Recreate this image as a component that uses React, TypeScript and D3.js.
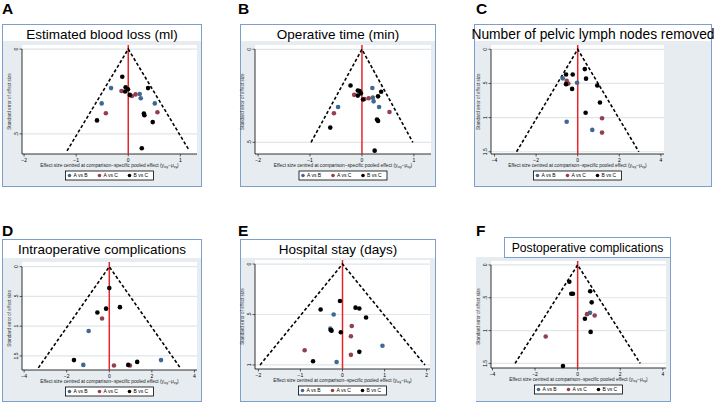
import React from 'react';
import * as d3 from 'd3';

// [centred effect size, standard error]
type Pt = [number, number];

const seriesNames = ['A vs B', 'A vs C', 'B vs C'];
const seriesColors = ['#3f6892', '#92404e', '#000000'];

// A - Estimated blood loss
const bloodAB: Pt[] = [[-0.33, 0.23], [-0.51, 0.32], [0.22, 0.265], [0.24, 0.29], [0.51, 0.32]];
const bloodAC: Pt[] = [[-0.13, 0.247], [0.14, 0.267], [0.07, 0.276], [-0.43, 0.378], [0.56, 0.372]];
const bloodBC: Pt[] = [[-0.115, 0.163], [-0.05, 0.225], [-0.005, 0.237], [-0.06, 0.25], [0.03, 0.27], [0.38, 0.23],
  [0.30, 0.38], [0.31, 0.39], [-0.60, 0.42], [0.47, 0.43], [0.26, 0.584]];

// B - Operative time
const opAB: Pt[] = [[0.2, 0.208], [0.21, 0.26], [0.225, 0.28], [0.33, 0.31], [-0.46, 0.31]];
const opAC: Pt[] = [[-0.15, 0.245], [0.05, 0.267], [0.13, 0.263], [-0.54, 0.344], [0.53, 0.337]];
const opBC: Pt[] = [[-0.22, 0.195], [-0.08, 0.222], [-0.045, 0.224], [-0.02, 0.237], [-0.08, 0.249], [0.02, 0.27],
  [0.37, 0.228], [0.31, 0.253], [0.29, 0.378], [0.31, 0.385], [-0.61, 0.421], [0.245, 0.545]];

// C - Number of pelvic lymph nodes removed
const nodesAB: Pt[] = [[-0.72, 0.425], [-0.03, 0.49], [-0.53, 1.06], [0.70, 1.18]];
const nodesAC: Pt[] = [[-0.53, 0.46], [-0.45, 0.50], [1.17, 1.01], [1.17, 1.22]];
const nodesBC: Pt[] = [[-0.56, 0.37], [-0.24, 0.37], [0.34, 0.29], [0.40, 0.43], [-0.56, 0.51], [-0.27, 0.58],
  [0.94, 0.53], [1.07, 0.78], [0.38, 0.93]];

// D - Intraoperative complications
const intraAB: Pt[] = [[-0.97, 1.08], [-1.22, 1.65], [2.43, 1.57]];
const intraAC: Pt[] = [[-0.34, 0.87], [0.22, 1.66], [0.97, 1.66]];
const intraBC: Pt[] = [[0.0, 0.36], [-0.15, 0.705], [0.50, 0.68], [-0.56, 0.77], [-1.66, 1.57], [0.89, 1.65], [1.31, 1.60]];

// E - Hospital stay
const stayAB: Pt[] = [[-0.21, 0.50], [-0.29, 0.64], [0.95, 0.81], [-0.14, 0.97]];
const stayAC: Pt[] = [[0.22, 0.614], [0.20, 0.716], [-0.90, 0.854], [0.20, 0.90]];
const stayBC: Pt[] = [[-0.06, 0.366], [-0.52, 0.45], [0.31, 0.432], [0.40, 0.44], [0.56, 0.53], [-0.28, 0.653],
  [-0.26, 0.66], [-0.04, 0.676], [0.40, 0.87], [-0.70, 0.963]];

// F - Postoperative complications
const postAB: Pt[] = [[0.58, 0.73]];
const postAC: Pt[] = [[0.44, 0.75], [0.80, 0.77], [-1.50, 1.09]];
const postBC: Pt[] = [[-0.39, 0.255], [-0.30, 0.44], [-0.22, 0.44], [0.59, 0.40], [0.66, 0.57], [0.34, 0.82],
  [0.61, 1.02], [-0.69, 1.54]];

const xTicksNarrow = [-2, -1, 0, 1];
const xTicksWide = [-4, -2, 0, 2, 4];
const xTicksStay = [-2, -1, 0, 1, 2];
const seTicksHalf = [0, 0.5];
const seTicksOne = [0, 0.5, 1];
const seTicksFull = [0, 0.5, 1, 1.5];

const fmtSe = (v: number) => (v === 0 ? '0' : v < 1 ? '.5' : String(v));

interface PanelCfg {
  letter: string;
  title: string;
  titleSize: number;
  box: [number, number, number, number]; // x0, x1, y0, y1
  bgLeft?: number;
  band: number;
  plot: [number, number, number, number]; // left, right, top, bottom
  xDomain: [number, number];
  yDomain: [number, number];
  xTicks: number[];
  yTicks: number[];
  seMax: number;
  series: Pt[][];
}

const panels: PanelCfg[] = [
  { letter: 'A', title: 'Estimated blood loss (ml)', titleSize: 13.5, box: [2, 202, 24, 187], band: 41, plot: [22, 197, 45, 154],
    xDomain: [-2.04, 1.32], yDomain: [-0.024, 0.618], xTicks: xTicksNarrow, yTicks: seTicksHalf, seMax: 0.6,
    series: [bloodAB, bloodAC, bloodBC] },
  { letter: 'B', title: 'Operative time (min)', titleSize: 13.5, box: [240, 436, 24, 187], band: 41, plot: [255, 431, 45, 154],
    xDomain: [-2.06, 1.33], yDomain: [-0.023, 0.563], xTicks: xTicksNarrow, yTicks: seTicksHalf, seMax: 0.5,
    series: [opAB, opAC, opBC] },
  { letter: 'C', title: 'Number of pelvic lymph nodes removed', titleSize: 13.8, box: [474, 712, 24, 187], band: 41,
    plot: [491, 664, 45, 154], xDomain: [-4.17, 4.15], yDomain: [-0.063, 1.533], xTicks: xTicksWide, yTicks: seTicksFull,
    seMax: 1.5, series: [nodesAB, nodesAC, nodesBC] },
  { letter: 'D', title: 'Intraoperative complications', titleSize: 13.5, box: [2, 202, 239, 402], band: 258,
    plot: [22, 197, 262, 370], xDomain: [-4.1, 4.12], yDomain: [-0.079, 1.736], xTicks: xTicksWide, yTicks: seTicksFull,
    seMax: 1.7, series: [intraAB, intraAC, intraBC] },
  { letter: 'E', title: 'Hospital stay (days)', titleSize: 13.5, box: [240, 436, 239, 402], band: 258, plot: [255, 430, 260, 369],
    xDomain: [-2.08, 2.08], yDomain: [-0.04, 1.04], xTicks: xTicksStay, yTicks: seTicksOne, seMax: 1.0,
    series: [stayAB, stayAC, stayBC] },
  { letter: 'F', title: 'Postoperative complications', titleSize: 12.2, box: [504, 671, 237, 402], bgLeft: 476, band: 257,
    plot: [491, 666, 261, 368], xDomain: [-4.07, 4.15], yDomain: [-0.06, 1.57], xTicks: xTicksWide, yTicks: seTicksFull,
    seMax: 1.5, series: [postAB, postAC, postBC] },
];

const font = '"Liberation Sans", Arial, sans-serif';
const bgColor = '#e6ecef';
const borderColor = '#7d9fcb';

const Panel: React.FC<{ cfg: PanelCfg }> = ({ cfg }) => {
  const [bx0, bx1, by0, by1] = cfg.box;
  const [pl, pr, pt, pb] = cfg.plot;
  const x = d3.scaleLinear().domain(cfg.xDomain).range([pl, pr]);
  const y = d3.scaleLinear().domain(cfg.yDomain).range([pt, pb]);
  const gx0 = cfg.bgLeft ?? bx0;
  const cx = (pl + pr) / 2;
  const cy = (y(cfg.yTicks[0]) + pb) / 2;
  const z = 1.96 * cfg.seMax;
  const funnel = d3.line<[number, number]>().x(d => x(d[0])).y(d => y(d[1]))([[-z, cfg.seMax], [0, 0], [z, cfg.seMax]]);
  const legendW = 88;
  const lx = cx - legendW / 2;
  const ly = pb + 17;
  const letterX = cfg.letter === 'C' || cfg.letter === 'F' ? 476 : cfg.letter === 'B' || cfg.letter === 'E' ? 238 : 2;
  const letterY = by0 > 200 ? 236 : 14;

  return (
    <g>
      <text x={letterX} y={letterY} fontFamily={font} fontWeight="bold" fontSize={15.5}>{cfg.letter}</text>
      <rect x={gx0} y={cfg.band} width={bx1 - gx0} height={by1 - cfg.band} fill={bgColor} />
      <rect x={bx0} y={by0} width={bx1 - bx0} height={cfg.band - by0} fill="#fff" />
      {cfg.bgLeft !== undefined ? (
        <g fill="none" stroke={borderColor} strokeWidth={1}>
          <rect x={bx0 + 0.5} y={by0 + 0.5} width={bx1 - bx0 - 1} height={cfg.band - by0} />
          <path d={`M${bx1 - 0.5},${cfg.band}V${by1 - 0.5}H${gx0}`} />
        </g>
      ) : (
        <rect x={bx0 + 0.5} y={by0 + 0.5} width={bx1 - bx0 - 1} height={by1 - by0 - 1} fill="none" stroke={borderColor} />
      )}
      <text x={(bx0 + bx1) / 2} y={by0 + 14.5} textAnchor="middle" fontFamily={font} fontSize={cfg.titleSize}>
        {cfg.title}
      </text>

      <rect x={pl} y={pt} width={pr - pl} height={pb - pt} fill="#fff" />
      {cfg.yTicks.map(t => (
        <line key={'g' + t} x1={pl} x2={pr} y1={y(t)} y2={y(t)} stroke="#dfe6ea" strokeWidth={1.2} />
      ))}

      {/* y axis */}
      <line x1={pl} x2={pl} y1={y(cfg.yTicks[0])} y2={pb} stroke="#000" strokeWidth={0.8} />
      {cfg.yTicks.map(t => (
        <g key={'y' + t}>
          <line x1={pl - 2.5} x2={pl} y1={y(t)} y2={y(t)} stroke="#000" strokeWidth={0.6} />
          <text transform={`translate(${pl - 4.5},${y(t)}) rotate(-90)`} textAnchor="middle" fontFamily={font} fontSize={5}>
            {fmtSe(t)}
          </text>
        </g>
      ))}
      <text transform={`translate(${pl - 11},${cy}) rotate(-90)`} textAnchor="middle" fontFamily={font} fontSize={4.6}
        fill="#333">Standard error of effect size</text>

      {/* x axis */}
      <line x1={pl} x2={pr} y1={pb} y2={pb} stroke="#000" strokeWidth={0.8} />
      {cfg.xTicks.map(t => (
        <g key={'x' + t}>
          <line x1={x(t)} x2={x(t)} y1={pb} y2={pb + 2.5} stroke="#000" strokeWidth={0.6} />
          <text x={x(t)} y={pb + 7.5} textAnchor="middle" fontFamily={font} fontSize={5}>
            {t < 0 ? '\u2212' + Math.abs(t) : t}
          </text>
        </g>
      ))}
      <text x={cx} y={pb + 12.5} textAnchor="middle" fontFamily={font} fontSize={4.8} fill="#222">
        Effect size centred at comparison{'\u2212'}specific pooled effect (y
        <tspan fontSize={3.4} dy={1}>ixy</tspan>
        <tspan dy={-1}>{'\u2212'}{'\u03bc'}</tspan>
        <tspan fontSize={3.4} dy={1}>xy</tspan>
        <tspan dy={-1}>)</tspan>
      </text>

      {/* null line and funnel */}
      <line x1={x(0)} x2={x(0)} y1={pt} y2={pb} stroke="#e8242b" strokeWidth={1.5} />
      <path d={funnel ?? ''} fill="none" stroke="#000" strokeWidth={1.6} strokeDasharray="3.2 2.2" />

      {cfg.series.map((pts, si) => (
        <g key={'s' + si} fill={seriesColors[si]}>
          {pts.map((p, i) => (
            <circle key={i} cx={x(p[0])} cy={y(p[1])} r={2.3} />
          ))}
        </g>
      ))}

      {/* legend */}
      <rect x={lx} y={ly} width={legendW} height={9} fill="#fff" stroke="#000" strokeWidth={0.8} />
      {seriesNames.map((name, i) => (
        <g key={name}>
          <circle cx={lx + 4 + i * 30} cy={ly + 4.5} r={1.8} fill={seriesColors[i]} />
          <text x={lx + 8 + i * 30} y={ly + 6.3} fontFamily={font} fontSize={5}>{name}</text>
        </g>
      ))}
    </g>
  );
};

const App: React.FC = () => (
  <svg width={714} height={405} style={{ position: 'absolute', left: 0, top: 0, background: '#fff' }}>
    {panels.map(p => (
      <Panel key={p.letter} cfg={p} />
    ))}
  </svg>
);

export default App;
